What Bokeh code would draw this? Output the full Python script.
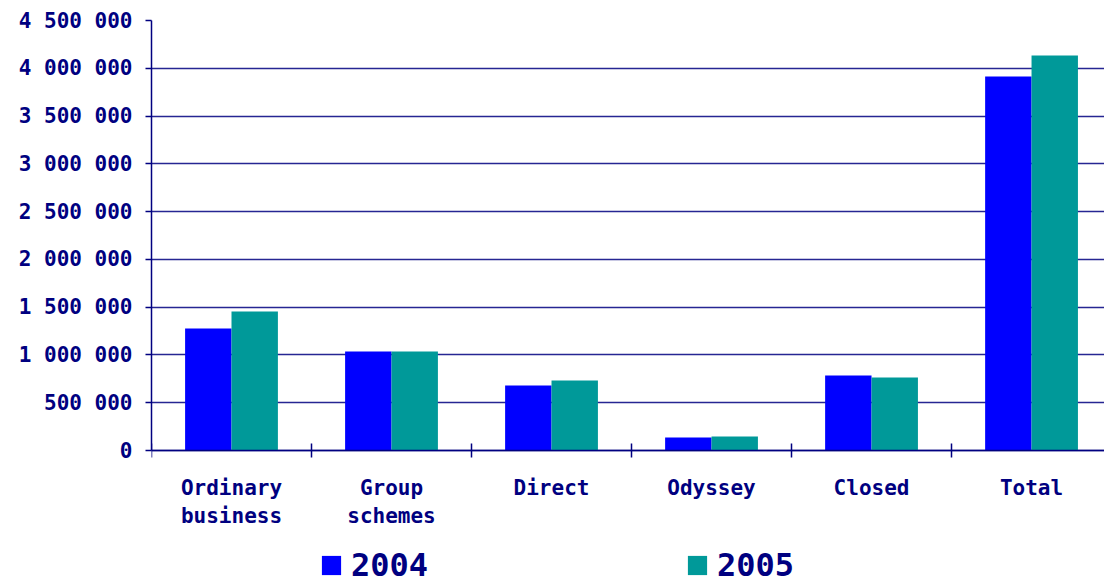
from bokeh.plotting import figure
from bokeh.models import Range1d, FixedTicker, Legend, LegendItem, ColumnDataSource
from bokeh.transform import dodge
from bokeh.embed import file_html
from bokeh.resources import INLINE
import numpy as np

categories = ["Ordinary\nbusiness", "Group\nschemes", "Direct", "Odyssey", "Closed", "Total"]
years = ["2004", "2005"]
values_2004 = [1277000, 1036000, 680000, 136000, 785000, 3914000]
values_2005 = [1455000, 1036000, 733000, 147000, 764000, 4135000]
y_ticks = [0, 500000, 1000000, 1500000, 2000000, 2500000, 3000000, 3500000, 4000000, 4500000]
y_tick_labels = ["0", "500 000", "1 000 000", "1 500 000", "2 000 000", "2 500 000",
                 "3 000 000", "3 500 000", "4 000 000", "4 500 000"]
colors = ["#0000FF", "#009999"]

NAVY = "#000080"
FONT = "DejaVu Sans Mono"

centers = (np.arange(len(categories)) + 0.5).tolist()
src = ColumnDataSource(dict(x=centers, v2004=values_2004, v2005=values_2005))

y_top = y_ticks[-1]
y_bottom = -y_top * 135.0 / 430.0   # room under the baseline for labels and legend

p = figure(width=1104, height=585, x_range=Range1d(0, 5.956), y_range=Range1d(y_bottom, y_top),
           output_backend="svg", toolbar_location=None,
           min_border_left=151, min_border_right=0, min_border_top=20, min_border_bottom=0)
p.outline_line_alpha = 0
p.background_fill_color = "white"

bw = 0.29
r1 = p.vbar(x=dodge("x", -bw / 2), top="v2004", width=bw, source=src,
            fill_color=colors[0], line_color=None)
r2 = p.vbar(x=dodge("x", bw / 2), top="v2005", width=bw, source=src,
            fill_color=colors[1], line_color=None)

# x axis (drawn at the zero baseline)
xa = p.xaxis[0]
xa.fixed_location = 0
xa.ticker = FixedTicker(ticks=centers, minor_ticks=list(range(len(categories) + 1)))
xa.major_label_overrides = {c: lab for c, lab in zip(centers, categories)}
xa.major_tick_line_alpha = 0
xa.minor_tick_in = 7
xa.minor_tick_out = 7
xa.minor_tick_line_color = NAVY
xa.minor_tick_line_width = 1.5
xa.axis_line_color = NAVY
xa.axis_line_width = 1.5
xa.major_label_text_font = FONT
xa.major_label_text_font_style = "bold"
xa.major_label_text_font_size = "21px"
xa.major_label_text_color = NAVY
xa.major_label_standoff = 18
xa.major_label_text_align = "center"

# y axis
ya = p.yaxis[0]
ya.bounds = (0, y_top)
ya.ticker = FixedTicker(ticks=y_ticks, minor_ticks=[])
ya.major_label_overrides = {t: lab for t, lab in zip(y_ticks, y_tick_labels)}
ya.major_tick_in = 0
ya.major_tick_out = 6
ya.major_tick_line_color = NAVY
ya.major_tick_line_width = 1.5
ya.axis_line_color = NAVY
ya.axis_line_width = 1.5
ya.major_label_text_font = FONT
ya.major_label_text_font_style = "bold"
ya.major_label_text_font_size = "21px"
ya.major_label_text_color = NAVY
ya.major_label_standoff = 13

p.xgrid.visible = False
p.ygrid.grid_line_color = NAVY
p.ygrid.grid_line_width = 1.3
p.ygrid.grid_line_alpha = 0.85

legend = Legend(items=[LegendItem(label=years[0], renderers=[r1]),
                       LegendItem(label=years[1], renderers=[r2])],
                orientation="horizontal", location=(168, 1),
                glyph_width=24, glyph_height=24, label_standoff=8, spacing=257,
                padding=0, margin=0, border_line_alpha=0, background_fill_alpha=0,
                label_text_font=FONT, label_text_font_style="bold",
                label_text_font_size="32px", label_text_color=NAVY)
p.add_layout(legend, "center")

open("out.html", "w").write(file_html(p, INLINE))
